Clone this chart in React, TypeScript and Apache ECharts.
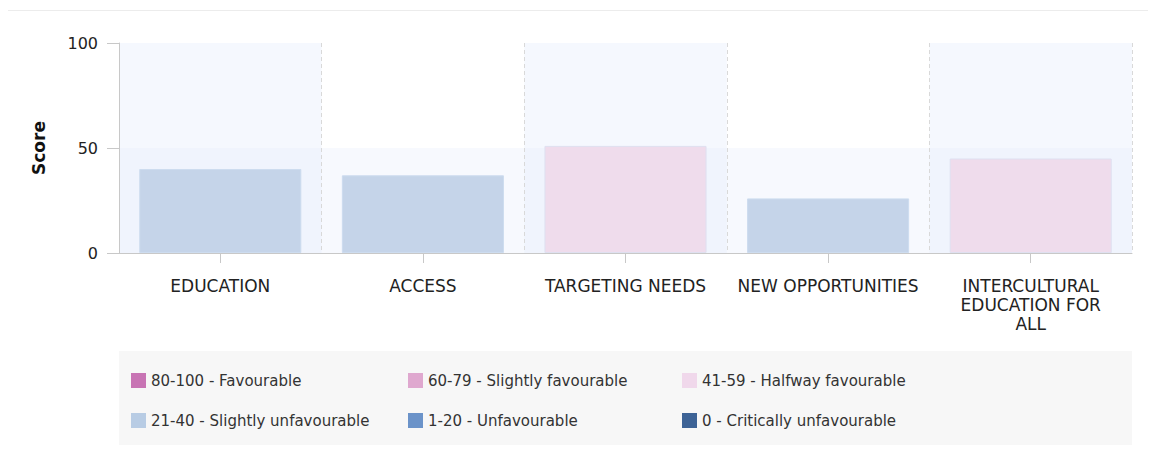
import React, { useEffect, useRef } from "react";
import * as echarts from "echarts";

const categories = ["EDUCATION", "ACCESS", "TARGETING NEEDS", "NEW OPPORTUNITIES", "INTERCULTURAL EDUCATION FOR ALL"];
const categoryLabels = ["EDUCATION", "ACCESS", "TARGETING NEEDS", "NEW OPPORTUNITIES", "INTERCULTURAL\nEDUCATION FOR\nALL"];
const scores = [40, 37, 51, 26, 45];
const scoreBands = ["21-40 - Slightly unfavourable", "21-40 - Slightly unfavourable", "41-59 - Halfway favourable", "21-40 - Slightly unfavourable", "41-59 - Halfway favourable"];

const legendNames = [
  "80-100 - Favourable",
  "60-79 - Slightly favourable",
  "41-59 - Halfway favourable",
  "21-40 - Slightly unfavourable",
  "1-20 - Unfavourable",
  "0 - Critically unfavourable",
];
const legendColors = ["#c874b4", "#dfa8cf", "#f0d8eb", "#b8cce4", "#6b93c9", "#3d6396"];
const barFill: Record<string, string> = {
  "41-59 - Halfway favourable": "#efdcec",
  "21-40 - Slightly unfavourable": "#c5d4e9",
};
const barBorder: Record<string, string> = {
  "41-59 - Halfway favourable": "#dfe0f0",
  "21-40 - Slightly unfavourable": "#cddcef",
};

export default function App() {
  const ref = useRef<HTMLDivElement>(null);
  useEffect(() => {
    if (!ref.current) return;
    const chart = echarts.init(ref.current, undefined, { renderer: "svg" });
    const font = "DejaVu Sans, Verdana, sans-serif";
    const legendCols = [
      { left: 131, data: [legendNames[0], legendNames[3]] },
      { left: 408, data: [legendNames[1], legendNames[4]] },
      { left: 682, data: [legendNames[2], legendNames[5]] },
    ];
    chart.setOption({
      animation: false,
      textStyle: { fontFamily: font },
      graphic: [
        {
          type: "polyline",
          shape: { points: [[2.5, 453], [2.5, 10.5], [1156, 10.5]] },
          style: { stroke: "#ececec", lineWidth: 1, fill: null },
          silent: true,
        },
        {
          type: "rect",
          shape: { x: 119, y: 351, width: 1013, height: 94 },
          style: { fill: "#f7f7f7" },
          silent: true,
          z: -10,
        },
      ],
      grid: { left: 119, right: 24, top: 43, bottom: 200, containLabel: false },
      legend: legendCols.map((c) => ({
        orient: "vertical",
        left: c.left,
        top: 373,
        padding: 0,
        itemWidth: 15,
        itemHeight: 15,
        itemGap: 25,
        itemTextGap: 8,
        icon: "rect",
        selectedMode: false,
        data: c.data,
        textStyle: { fontSize: 15, color: "#333", fontFamily: font },
      })),
      xAxis: {
        type: "category",
        data: categories,
        axisLine: { show: true, lineStyle: { color: "#c8c8c8", width: 1 } },
        axisTick: { show: true, alignWithLabel: true, length: 10, lineStyle: { color: "#c8c8c8" } },
        axisLabel: {
          interval: 0,
          margin: 23,
          fontSize: 17,
          color: "#222",
          lineHeight: 19,
          fontFamily: font,
          formatter: (v: string) => categoryLabels[categories.indexOf(v)],
        },
        splitLine: { show: true, interval: 0, lineStyle: { color: "#d9d9d9", type: [4, 3], width: 1 } },
        splitArea: {
          show: true,
          interval: 0,
          areaStyle: { color: ["rgba(230,238,252,0.4)", "rgba(255,255,255,0)"] },
        },
      },
      yAxis: {
        type: "value",
        min: 0,
        max: 100,
        interval: 50,
        name: "Score",
        nameLocation: "middle",
        nameGap: 72,
        nameTextStyle: { fontSize: 17, fontWeight: "bold", color: "#111", fontFamily: font },
        axisLine: { show: true, lineStyle: { color: "#c8c8c8", width: 1 } },
        axisTick: { show: true, length: 12, lineStyle: { color: "#c8c8c8" } },
        axisLabel: { fontSize: 16, color: "#222", margin: 21, fontFamily: font },
        splitLine: { show: false },
        splitArea: {
          show: true,
          areaStyle: { color: ["rgba(235,241,252,0.4)", "rgba(255,255,255,0)"] },
        },
      },
      series: [
        {
          type: "bar",
          barWidth: "80%",
          data: scores.map((v, i) => ({
            value: v,
            itemStyle: {
              color: barFill[scoreBands[i]],
              borderColor: barBorder[scoreBands[i]],
              borderWidth: 1,
            },
          })),
          z: 5,
        },
        ...legendNames.map((n, i) => ({
          type: "scatter",
          name: n,
          data: [],
          itemStyle: { color: legendColors[i], opacity: 1 },
        })),
      ],
    });
    return () => chart.dispose();
  }, []);
  return <div ref={ref} style={{ width: 1156, height: 453, margin: -8 }} />;
}
